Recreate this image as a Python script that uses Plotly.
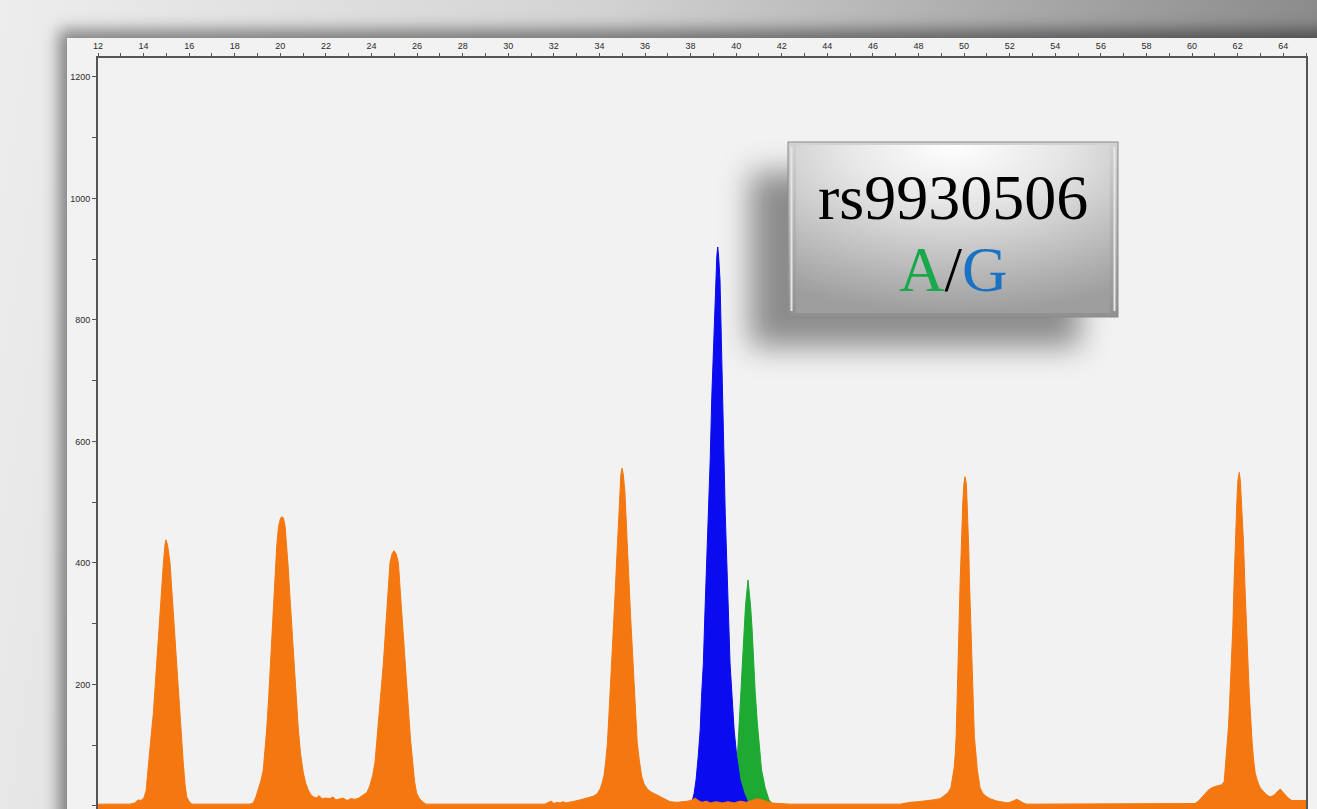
import base64
import plotly.graph_objects as go

# ---------------- data ----------------
X_TICK_START, X_TICK_END = 12, 64
Y_TICKS = [0, 200, 400, 600, 800, 1000, 1200]

ORANGE_X = [
    12.00, 13.40, 13.62, 13.76, 13.89, 14.02, 14.11, 14.21, 14.33, 14.43, 14.50, 14.58, 14.65, 14.72, 14.80, 14.87,
    14.94, 14.98, 15.05, 15.16, 15.23, 15.30, 15.38, 15.45, 15.52, 15.60, 15.67, 15.74, 15.82, 15.89, 15.99, 16.11,
    18.67, 18.81, 18.93, 19.03, 19.15, 19.25, 19.33, 19.40, 19.49, 19.57, 19.65, 19.72, 19.78, 19.84, 19.92, 20.01,
    20.07, 20.14, 20.21, 20.28, 20.35, 20.42, 20.51, 20.60, 20.69, 20.79, 20.89, 21.01, 21.11, 21.23, 21.35, 21.45,
    21.57, 21.70, 21.83, 22.00, 22.18, 22.31, 22.44, 22.58, 22.75, 22.93, 23.10, 23.28, 23.45, 23.63, 23.79, 23.87,
    23.94, 24.05, 24.15, 24.24, 24.34, 24.43, 24.52, 24.59, 24.67, 24.74, 24.81, 24.90, 24.99, 25.08, 25.18, 25.25,
    25.33, 25.40, 25.47, 25.55, 25.62, 25.71, 25.81, 25.89, 25.98, 26.09, 26.20, 26.39,
    31.61, 31.75, 31.88, 32.01, 32.14, 32.27, 32.40, 32.53, 32.71, 32.93, 33.15, 33.37, 33.59, 33.73, 33.90, 34.03,
    34.12, 34.20, 34.28, 34.35, 34.41, 34.47, 34.52, 34.59, 34.63, 34.69, 34.74, 34.79, 34.83, 34.88, 34.94, 34.99,
    35.05, 35.12, 35.18, 35.22, 35.27, 35.31, 35.37, 35.43, 35.49, 35.55, 35.61, 35.66, 35.76, 35.86, 35.96, 36.08,
    36.22, 36.37, 36.58, 36.81, 36.97, 37.10, 37.41, 37.67, 37.89, 38.07, 38.20, 38.33, 38.51, 38.69, 38.86, 39.13,
    39.39, 39.65, 39.91, 40.18, 40.44, 40.70, 40.92, 41.14, 41.36, 41.58, 41.84, 42.37,
    47.19, 47.34, 47.63, 47.98, 48.33, 48.64, 48.95, 49.17, 49.30, 49.42, 49.50, 49.56, 49.61, 49.65, 49.69, 49.72,
    49.76, 49.79, 49.83, 49.87, 49.90, 49.94, 49.99, 50.04, 50.10, 50.14, 50.18, 50.21, 50.23, 50.26, 50.31, 50.35,
    50.40, 50.45, 50.52, 50.58, 50.70, 50.83, 51.00, 51.14, 51.44, 51.71, 51.93, 52.15, 52.31, 52.46, 52.59, 52.75,
    60.00, 60.13, 60.28, 60.44, 60.57, 60.71, 60.87, 61.01, 61.16, 61.30, 61.41, 61.45, 61.49, 61.55, 61.60, 61.65,
    61.70, 61.75, 61.79, 61.84, 61.89, 61.93, 61.97, 62.01, 62.07, 62.12, 62.17, 62.21, 62.26, 62.32, 62.38, 62.43,
    62.48, 62.53, 62.58, 62.64, 62.70, 62.77, 62.85, 62.99, 63.13, 63.28, 63.43, 63.56, 63.65, 63.76, 63.87, 63.98,
    64.09, 64.22, 64.38, 65.00,
]
ORANGE_Y = [
    3, 3, 5, 10, 9, 14, 25, 71, 115, 153, 195, 235, 280, 318, 360, 400,
    430, 438, 430, 400, 360, 318, 280, 235, 195, 153, 110, 71, 35, 15, 8, 3,
    3, 5, 15, 26, 42, 59, 90, 125, 180, 235, 290, 345, 390, 427, 460, 474,
    476, 474, 460, 427, 390, 345, 290, 235, 180, 125, 85, 54, 38, 26, 18, 15,
    13, 17, 12, 13, 12, 15, 10, 11, 13, 9, 12, 11, 13, 18, 22, 28,
    35, 50, 71, 110, 153, 195, 235, 275, 318, 360, 400, 415, 420, 415, 400, 360,
    318, 275, 235, 195, 153, 110, 71, 40, 21, 13, 8, 3,
    3, 6, 8, 4, 6, 5, 7, 5, 6, 8, 10, 12, 14, 16, 20, 28,
    38, 50, 75, 103, 145, 185, 227, 268, 310, 350, 392, 432, 475, 515, 545, 556,
    545, 515, 475, 432, 392, 350, 310, 268, 227, 185, 145, 103, 72, 48, 36, 29,
    24, 21, 17, 13, 9, 7, 6, 7, 8, 10, 13, 9, 6, 8, 5, 7,
    5, 7, 5, 8, 6, 9, 12, 10, 7, 5, 4, 3,
    3, 4, 6, 7, 8, 10, 12, 18, 22, 30, 45, 62, 85, 114, 170, 224,
    280, 334, 375, 416, 457, 498, 530, 542, 530, 498, 457, 416, 375, 334, 280, 224,
    170, 114, 85, 59, 30, 20, 15, 12, 8, 6, 5, 8, 11, 8, 5, 3,
    3, 4, 8, 14, 20, 26, 30, 32, 33, 35, 40, 58, 76, 103, 131, 172,
    213, 254, 295, 363, 432, 470, 504, 535, 549, 535, 504, 470, 432, 363, 295, 254,
    213, 172, 131, 103, 76, 55, 43, 30, 24, 18, 15, 17, 20, 24, 28, 23,
    18, 13, 9, 9,
]

BLUE_X = [37.80, 38.05, 38.15, 38.24, 38.33, 38.42, 38.48, 38.56, 38.63, 38.71, 38.78, 38.86, 38.93, 39.01, 39.09,
          39.15, 39.19, 39.23, 39.29, 39.34, 39.39, 39.46, 39.52, 39.59, 39.66, 39.73, 39.82, 39.91, 40.03, 40.17,
          40.35, 40.53, 40.70]
BLUE_Y = [0, 5, 20, 43, 80, 125, 180, 235, 320, 400, 480, 570, 674, 770, 866,
          905, 920, 905, 866, 770, 674, 570, 480, 400, 320, 235, 180, 125, 80, 43,
          20, 5, 0]

GREEN_X = [39.51, 39.73, 39.91, 40.02, 40.08, 40.15, 40.21, 40.28, 40.35, 40.41, 40.52, 40.63, 40.70, 40.76, 40.83,
           40.92, 41.00, 41.11, 41.27, 41.44, 41.67]
GREEN_Y = [0, 10, 30, 60, 100, 140, 190, 240, 290, 330, 372, 330, 290, 240, 190,
           140, 100, 60, 30, 10, 0]

SNP_NAME = "rs9930506"
ALLELE_1, ALLELE_2 = "A", "G"

# ---------------- layout constants ----------------
W, H = 1317, 809
ML, MR, MT, MB = 98, 11, 58, 0
X_RANGE = [12, 65]
Y_RANGE = [-5, 1231]
PW, PH = W - ML - MR, H - MT - MB

ORANGE = "#f4770f"
BLUE = "#0b0bf0"
GREEN = "#1ea933"
AXIS = "#555555"


def px_to_paper(px, py):
    return (px - ML) / PW, (H - MB - py) / PH


def svg_uri(svg):
    return "data:image/svg+xml;base64," + base64.b64encode(svg.encode()).decode()


bg_svg = f'''<svg xmlns="http://www.w3.org/2000/svg" width="{W}" height="{H}" viewBox="0 0 {W} {H}">
<defs>
<linearGradient id="g" x1="0" y1="0" x2="1" y2="0.1">
<stop offset="0" stop-color="#ededed"/><stop offset="0.45" stop-color="#d3d3d3"/><stop offset="1" stop-color="#8a8a8a"/>
</linearGradient>
<filter id="b" x="-5%" y="-5%" width="110%" height="110%"><feGaussianBlur stdDeviation="8"/></filter>
</defs>
<rect width="{W}" height="{H}" fill="url(#g)"/>
<rect x="59" y="30" width="1300" height="820" fill="#000" fill-opacity="0.45" filter="url(#b)"/>
<rect x="67" y="38" width="1300" height="820" fill="#f2f2f2"/>
</svg>'''

box_svg = f'''<svg xmlns="http://www.w3.org/2000/svg" width="{W}" height="{H}" viewBox="0 0 {W} {H}">
<defs>
<filter id="s" x="-30%" y="-40%" width="160%" height="180%"><feGaussianBlur stdDeviation="15"/></filter>
<radialGradient id="face" cx="0.5" cy="0.0" r="1.0" fx="0.5" fy="0.0">
<stop offset="0" stop-color="#ffffff"/><stop offset="0.35" stop-color="#e6e6e6"/>
<stop offset="0.8" stop-color="#b4b4b4"/><stop offset="1" stop-color="#9e9e9e"/>
</radialGradient>
<linearGradient id="bev" x1="0" y1="0" x2="0" y2="1">
<stop offset="0" stop-color="#d2d2d2"/><stop offset="1" stop-color="#909090"/>
</linearGradient>
</defs>
<rect x="750" y="172" width="330" height="175" fill="#000" fill-opacity="0.42" filter="url(#s)"/>
<rect x="788" y="142" width="330" height="175" fill="url(#bev)" stroke="#8a8a8a" stroke-width="1"/>
<rect x="796" y="145" width="314" height="168" fill="url(#face)"/>
<line x1="791.5" y1="147" x2="791.5" y2="311" stroke="#e6e6e6" stroke-width="2"/>
<line x1="1114.5" y1="147" x2="1114.5" y2="311" stroke="#e6e6e6" stroke-width="2"/>
</svg>'''

fig = go.Figure()

fig.add_trace(go.Scatter(x=GREEN_X, y=GREEN_Y, mode="lines", fill="tozeroy",
                         line=dict(color=GREEN, width=1), fillcolor=GREEN, hoverinfo="skip"))
fig.add_trace(go.Scatter(x=BLUE_X, y=BLUE_Y, mode="lines", fill="tozeroy",
                         line=dict(color=BLUE, width=1), fillcolor=BLUE, hoverinfo="skip"))
# orange trace closed down to the bottom of the axis range
fig.add_trace(go.Scatter(x=ORANGE_X + [X_RANGE[1], X_RANGE[0]],
                         y=ORANGE_Y + [Y_RANGE[0], Y_RANGE[0]],
                         mode="lines", fill="toself",
                         line=dict(color=ORANGE, width=1), fillcolor=ORANGE, hoverinfo="skip"))

img_x, img_y = px_to_paper(0, 0)
common_img = dict(xref="paper", yref="paper", x=img_x, y=img_y, sizex=W / PW, sizey=H / PH,
                  xanchor="left", yanchor="top", sizing="stretch")
images = [dict(source=svg_uri(bg_svg), layer="below", **common_img),
          dict(source=svg_uri(box_svg), layer="above", **common_img)]

ax1, ay1 = px_to_paper(953, 197)
ax2, ay2 = px_to_paper(953, 270)
serif = "Liberation Serif, Times New Roman, serif"
annotations = [
    dict(xref="paper", yref="paper", x=ax1, y=ay1, text=SNP_NAME, showarrow=False,
         xanchor="center", yanchor="middle", font=dict(family=serif, size=64, color="#000000")),
    dict(xref="paper", yref="paper", x=ax2, y=ay2,
         text=f"<span style='color:#19a84b'>{ALLELE_1}</span>/<span style='color:#1a72c2'>{ALLELE_2}</span>",
         showarrow=False, xanchor="center", yanchor="middle", font=dict(family=serif, size=63, color="#000000")),
]

tick_font = dict(family="Liberation Sans, Arial, sans-serif", size=9, color="#2a2a2a")

fig.update_layout(
    width=W, height=H, autosize=False,
    margin=dict(l=ML, r=MR, t=MT, b=MB, pad=0),
    paper_bgcolor="#e6e6e6", plot_bgcolor="#f2f2f2",
    showlegend=False, images=images, annotations=annotations,
    xaxis=dict(range=X_RANGE, side="top", tickmode="linear", tick0=X_TICK_START, dtick=2,
               ticks="outside", ticklen=3, tickwidth=1, tickcolor=AXIS,
               showline=True, linecolor=AXIS, linewidth=2, showgrid=False, zeroline=False,
               tickfont=tick_font, fixedrange=True,
               minor=dict(dtick=1, tick0=X_TICK_START, ticks="outside", ticklen=3, tickcolor=AXIS, showgrid=False)),
    yaxis=dict(range=Y_RANGE, tickmode="array", tickvals=Y_TICKS,
               ticks="outside", ticklen=4, tickwidth=1, tickcolor=AXIS,
               showline=True, linecolor=AXIS, linewidth=2, mirror=True, showgrid=False, zeroline=False,
               tickfont=tick_font, fixedrange=True,
               minor=dict(dtick=100, tick0=0, ticks="outside", ticklen=4, tickcolor=AXIS, showgrid=False)),
)

fig.write_html("out.html", config={"displayModeBar": False},
               post_script="document.body.style.margin='0';document.body.style.overflow='hidden';")
